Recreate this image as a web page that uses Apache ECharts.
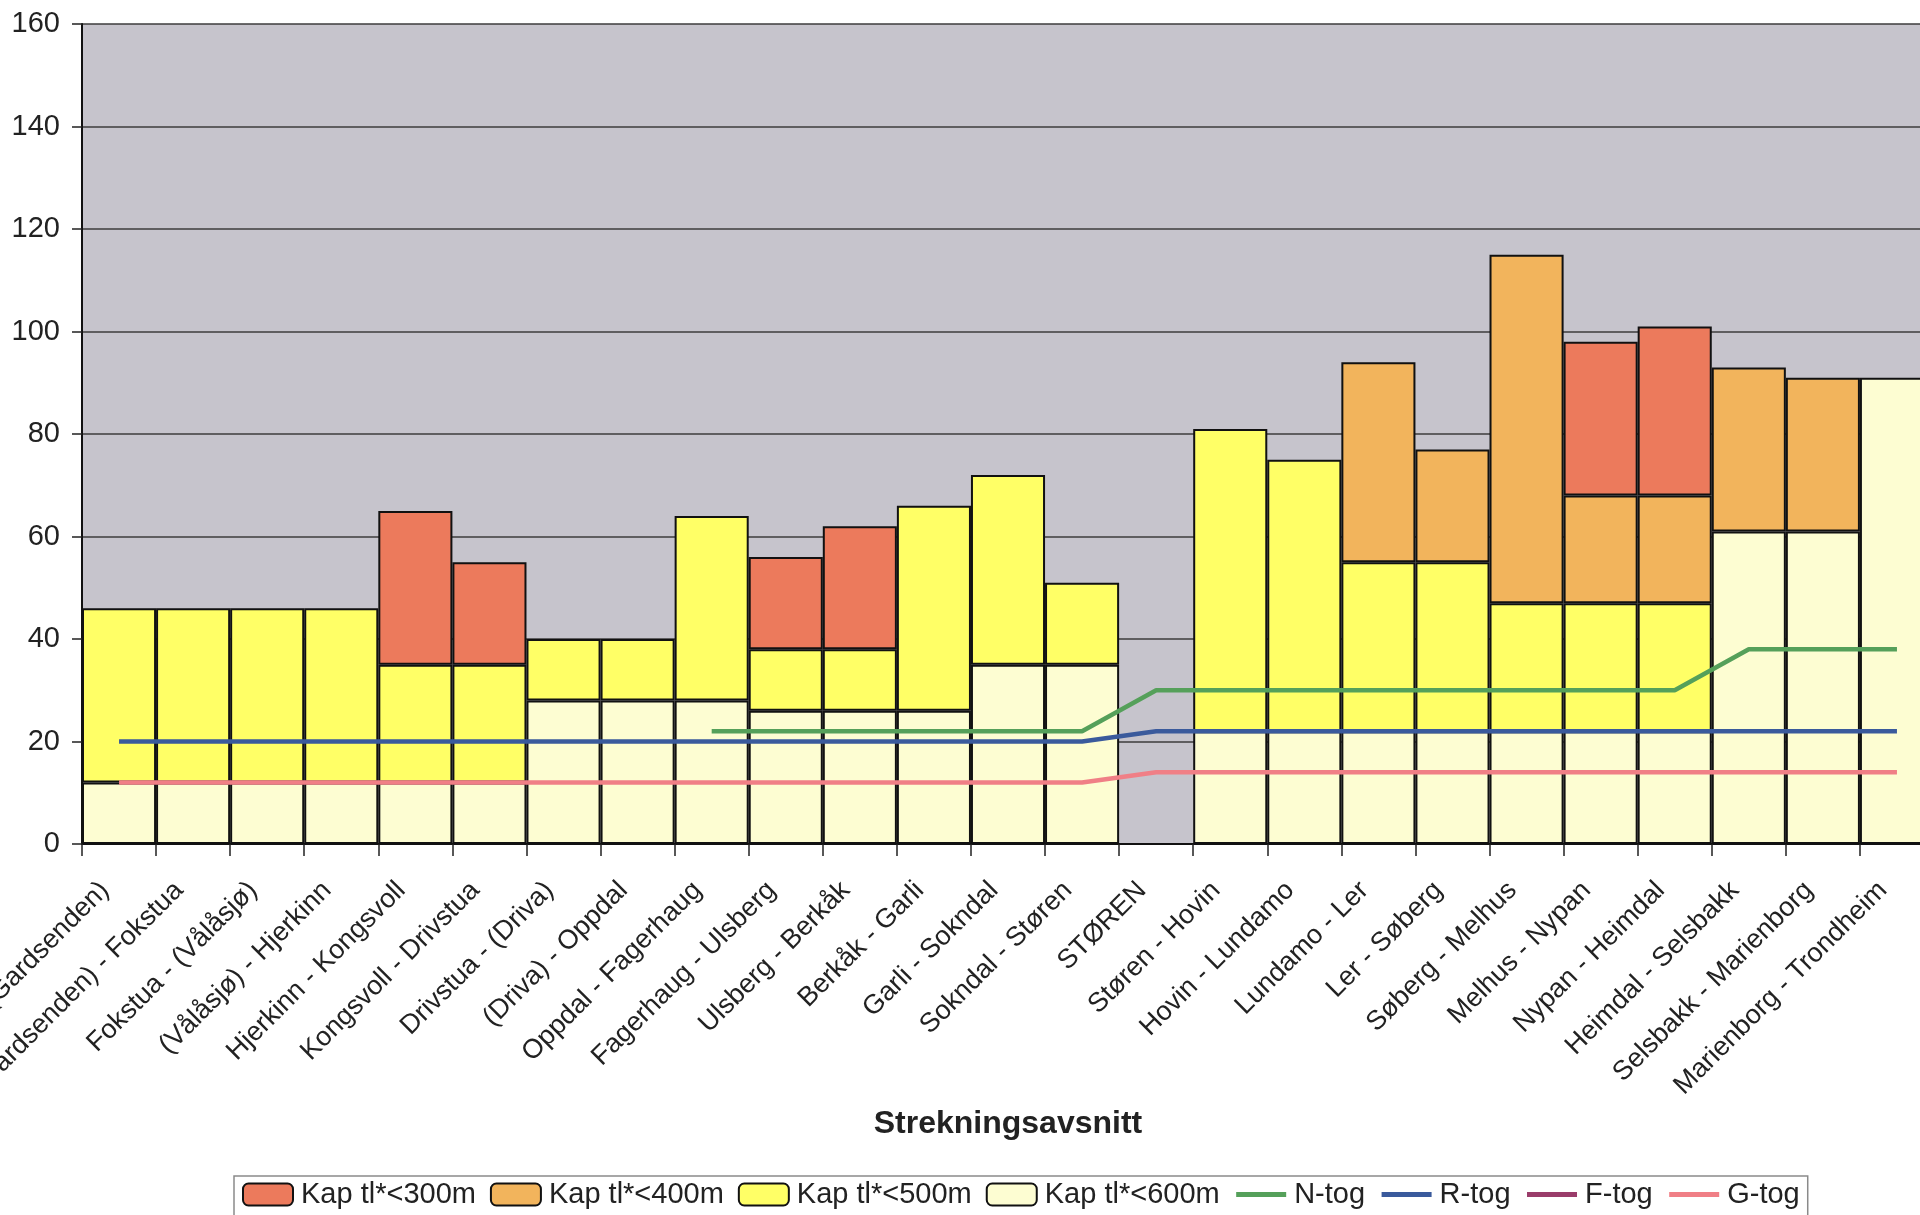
<!DOCTYPE html>
<html>
<head>
<meta charset="utf-8">
<script src="https://cdn.jsdelivr.net/npm/echarts@6/dist/echarts.min.js"></script>
<style>
  html, body { margin: 0; padding: 0; overflow: hidden; background: #fff; }
  /* chart is a bit wider than the window: the last bar runs off the right edge like in the scan */
  #main { width: 1940px; height: 1215px; }
</style>
</head>
<body>
<div id="main"></div>
<script>
// categories (strekningsavsnitt)
const categories = [
  'Dombås - (Gardsenden)', '(Gardsenden) - Fokstua', 'Fokstua - (Vålåsjø)', '(Vålåsjø) - Hjerkinn',
  'Hjerkinn - Kongsvoll', 'Kongsvoll - Drivstua', 'Drivstua - (Driva)', '(Driva) - Oppdal',
  'Oppdal - Fagerhaug', 'Fagerhaug - Ulsberg', 'Ulsberg - Berkåk', 'Berkåk - Garli',
  'Garli - Sokndal', 'Sokndal - Støren', 'STØREN', 'Støren - Hovin', 'Hovin - Lundamo',
  'Lundamo - Ler', 'Ler - Søberg', 'Søberg - Melhus', 'Melhus - Nypan', 'Nypan - Heimdal',
  'Heimdal - Selsbakk', 'Selsbakk - Marienborg', 'Marienborg - Trondheim'
]

// stacked segments, bottom to top
const kap600 = [12, 12, 12, 12, 12, 12, 28, 28, 28, 26, 26, 26, 35, 35, null, 22, 22, 22, 22, 22, 22, 22, 61, 61, 91]
const kap500 = [34, 34, 34, 34, 23, 23, 12, 12, 36, 12, 12, 40, 37, 16, null, 59, 53, 33, 33, 25, 25, 25, null, null, null]
const kap400 = [null, null, null, null, null, null, null, null, null, null, null, null, null, null, null, null, null, 39, 22, 68, 21, 21, 32, 30, null]
const kap300 = [null, null, null, null, 30, 20, null, null, null, 18, 24, null, null, null, null, null, null, null, null, null, 30, 33, null, null, null]

// train lines
const nTog = [null, null, null, null, null, null, null, null, 22, 22, 22, 22, 22, 22, 30, 30, 30, 30, 30, 30, 30, 30, 38, 38, 38]
const rTog = [20, 20, 20, 20, 20, 20, 20, 20, 20, 20, 20, 20, 20, 20, 22, 22, 22, 22, 22, 22, 22, 22, 22, 22, 22]
const fTog = []
const gTog = [12, 12, 12, 12, 12, 12, 12, 12, 12, 12, 12, 12, 12, 12, 14, 14, 14, 14, 14, 14, 14, 14, 14, 14, 14]

const yTicks = [0, 160, 20] // min, max, interval

const font = '"Liberation Sans", Arial, sans-serif'

function barSeries(name, data, color) {
  return {
    name: name,
    type: 'bar',
    stack: 'kap',
    data: data,
    barCategoryGap: '0%',
    itemStyle: { color: color, borderColor: '#111', borderWidth: 2 },
    emphasis: { disabled: true }
  }
}

function lineSeries(name, data, color) {
  return {
    name: name,
    type: 'line',
    data: data,
    showSymbol: false,
    symbol: 'none',
    z: 5,
    lineStyle: { color: color, width: 4.5 },
    itemStyle: { color: color },
    emphasis: { disabled: true }
  }
}

// line entries in the legend: only the stroke, no dot
const noDot = { opacity: 0 }

const option = {
  animation: false,
  textStyle: { fontFamily: font },
  grid: {
    left: 82,
    right: 6,
    top: 24,
    bottom: 371,
    show: true,
    backgroundColor: '#c6c4cc',
    borderWidth: 0,
    containLabel: false,
    outerBoundsMode: 'none'
  },
  legend: {
    left: 234,
    top: 1176,
    padding: [4, 8, 8, 8],
    borderColor: '#8a8a8a',
    borderWidth: 1.5,
    backgroundColor: '#fff',
    itemWidth: 50,
    itemHeight: 22,
    itemGap: 14,
    lineStyle: { width: 5 },
    textStyle: { fontSize: 29, color: '#222', fontFamily: font, padding: [0, 0, 0, 3] },
    data: [
      'Kap tl*<300m', 'Kap tl*<400m', 'Kap tl*<500m', 'Kap tl*<600m',
      { name: 'N-tog', itemStyle: noDot },
      { name: 'R-tog', itemStyle: noDot },
      { name: 'F-tog', itemStyle: noDot },
      { name: 'G-tog', itemStyle: noDot }
    ]
  },
  xAxis: {
    type: 'category',
    data: categories,
    name: 'Strekningsavsnitt',
    nameLocation: 'middle',
    nameGap: 259,
    nameTextStyle: { fontSize: 32, fontWeight: 'bold', color: '#222', fontFamily: font },
    axisLine: { lineStyle: { color: '#111', width: 2 } },
    axisTick: { show: true, interval: 0, length: 12, lineStyle: { color: '#222', width: 1.5 } },
    axisLabel: {
      interval: 0,
      rotate: 45,
      margin: 28,
      padding: [0, 20, 0, 0],
      fontSize: 27,
      color: '#222',
      fontFamily: font
    },
    splitLine: { show: false }
  },
  yAxis: {
    type: 'value',
    min: yTicks[0],
    max: yTicks[1],
    interval: yTicks[2],
    axisLine: { show: true, lineStyle: { color: '#111', width: 2 } },
    axisTick: { show: true, length: 10, lineStyle: { color: '#222', width: 1.5 } },
    axisLabel: { fontSize: 29, color: '#222', margin: 22, fontFamily: font },
    splitLine: { lineStyle: { color: '#3c3c3c', width: 1.5 } }
  },
  series: [
    barSeries('Kap tl*<600m', kap600, '#fdfdd2'),
    barSeries('Kap tl*<500m', kap500, '#ffff66'),
    barSeries('Kap tl*<400m', kap400, '#f2b45c'),
    barSeries('Kap tl*<300m', kap300, '#ec7a5c'),
    lineSeries('N-tog', nTog, '#55a05a'),
    lineSeries('R-tog', rTog, '#3a5a9c'),
    lineSeries('F-tog', fTog, '#9a3c6a'),
    lineSeries('G-tog', gTog, '#f07f86')
  ]
}

const chart = echarts.init(document.getElementById('main'))
chart.setOption(option)
</script>
</body>
</html>
